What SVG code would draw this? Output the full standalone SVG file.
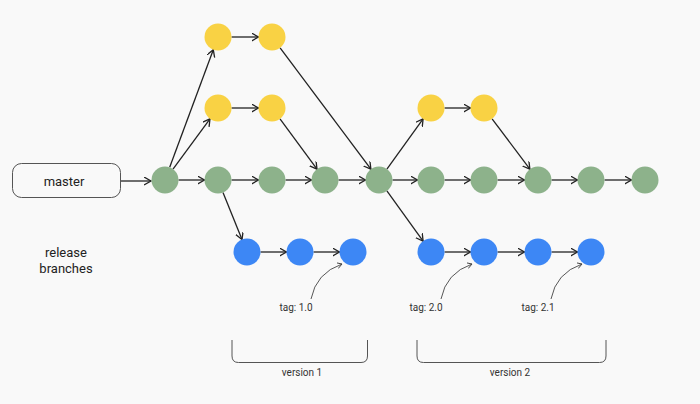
<svg xmlns="http://www.w3.org/2000/svg" width="700" height="404" viewBox="0 0 700 404">
<defs>
<marker id="arr" markerUnits="userSpaceOnUse" markerWidth="10" markerHeight="10" refX="7" refY="4" orient="auto">
<path d="M0,0 L7,4 L0,8" fill="none" stroke="#222" stroke-width="1.3"/>
</marker>
<marker id="arrs" markerUnits="userSpaceOnUse" markerWidth="8" markerHeight="8" refX="5" refY="3" orient="auto">
<path d="M0,0 L5,3 L0,6" fill="none" stroke="#444" stroke-width="0.9"/>
</marker>
<style>
.y{fill:#F9D244}
.g{fill:#8DB28B}
.b{fill:#3D87F5}
.c line{stroke:#222;stroke-width:1.3;marker-end:url(#arr)}
.tagc{fill:none;stroke:#444;stroke-width:0.9;marker-end:url(#arrs)}
.br{fill:none;stroke:#555;stroke-width:1}
text{font-family:Roboto,"Liberation Sans",sans-serif;fill:#222;text-anchor:middle}
.l{font-size:13px}
.s{font-size:10px;fill:#333}
</style>
</defs>
<rect width="700" height="404" fill="#F9F9F9"/>

<g id="connectors" class="c">
<line x1="121" y1="181" x2="151" y2="181"/>
<line x1="178.5" y1="180" x2="204.5" y2="180"/>
<line x1="169.7" y1="167.3" x2="213.3" y2="49.7"/>
<line x1="173" y1="169.1" x2="210" y2="118.9"/>
<line x1="231.5" y1="37" x2="258.5" y2="37"/>
<line x1="231.5" y1="108" x2="258.5" y2="108"/>
<line x1="231.5" y1="180" x2="258.5" y2="180"/>
<line x1="223" y1="192.5" x2="242" y2="239.5"/>
<line x1="285.5" y1="180" x2="311.5" y2="180"/>
<line x1="280" y1="118.9" x2="317" y2="169.1"/>
<line x1="280.1" y1="47.8" x2="370.9" y2="169.2"/>
<line x1="338.5" y1="180" x2="365.5" y2="180"/>
<line x1="386.9" y1="169.1" x2="423.1" y2="118.9"/>
<line x1="392.5" y1="180" x2="417.5" y2="180"/>
<line x1="386.9" y1="190.9" x2="423.1" y2="241.1"/>
<line x1="444.5" y1="108" x2="470.5" y2="108"/>
<line x1="492.1" y1="118.8" x2="529.9" y2="169.2"/>
<line x1="444.5" y1="180" x2="470.5" y2="180"/>
<line x1="497.5" y1="180" x2="524.5" y2="180"/>
<line x1="551.5" y1="180" x2="577.5" y2="180"/>
<line x1="604.5" y1="180" x2="631.5" y2="180"/>
<line x1="260.5" y1="252" x2="286.5" y2="252"/>
<line x1="313.5" y1="252" x2="339.5" y2="252"/>
<line x1="444.5" y1="252" x2="470.5" y2="252"/>
<line x1="497.5" y1="252" x2="524.5" y2="252"/>
<line x1="551.5" y1="252" x2="577.5" y2="252"/>
</g>

<g id="master">
<rect x="12.5" y="163.5" width="108" height="34" rx="9" fill="none" stroke="#555" stroke-width="1"/>
<text class="l" x="64" y="186">master</text>
</g>
<g id="release-label">
<text class="l" x="66" y="257">release</text>
<text class="l" x="66" y="273">branches</text>
</g>

<g id="g1"><circle class="g" cx="165" cy="180" r="13.5"/></g>
<g id="g2"><circle class="g" cx="218" cy="180" r="13.5"/></g>
<g id="g3"><circle class="g" cx="272" cy="180" r="13.5"/></g>
<g id="g4"><circle class="g" cx="325" cy="180" r="13.5"/></g>
<g id="g5"><circle class="g" cx="379" cy="180" r="13.5"/></g>
<g id="g6"><circle class="g" cx="431" cy="180" r="13.5"/></g>
<g id="g7"><circle class="g" cx="484" cy="180" r="13.5"/></g>
<g id="g8"><circle class="g" cx="538" cy="180" r="13.5"/></g>
<g id="g9"><circle class="g" cx="591" cy="180" r="13.5"/></g>
<g id="g10"><circle class="g" cx="645" cy="180" r="13.5"/></g>

<g id="y1"><circle class="y" cx="218" cy="37" r="13.5"/></g>
<g id="y2"><circle class="y" cx="272" cy="37" r="13.5"/></g>
<g id="y3"><circle class="y" cx="218" cy="108" r="13.5"/></g>
<g id="y4"><circle class="y" cx="272" cy="108" r="13.5"/></g>
<g id="y5"><circle class="y" cx="431" cy="108" r="13.5"/></g>
<g id="y6"><circle class="y" cx="484" cy="108" r="13.5"/></g>

<g id="b1"><circle class="b" cx="247" cy="252" r="13.5"/></g>
<g id="b2"><circle class="b" cx="300" cy="252" r="13.5"/></g>
<g id="b3"><circle class="b" cx="353" cy="252" r="13.5"/></g>
<g id="b4"><circle class="b" cx="431" cy="252" r="13.5"/></g>
<g id="b5"><circle class="b" cx="484" cy="252" r="13.5"/></g>
<g id="b6"><circle class="b" cx="538" cy="252" r="13.5"/></g>
<g id="b7"><circle class="b" cx="591" cy="252" r="13.5"/></g>

<g id="tag10">
<path class="tagc" d="M311,299 Q316,273 342,264"/>
<text class="s" x="296" y="311">tag: 1.0</text>
</g>
<g id="tag20">
<path class="tagc" d="M441,299 Q446,273 472,264"/>
<text class="s" x="426" y="311">tag: 2.0</text>
</g>
<g id="tag21">
<path class="tagc" d="M551,299 Q556,273 582,264"/>
<text class="s" x="538" y="311">tag: 2.1</text>
</g>

<g id="version1">
<path class="br" d="M232,340 V356 Q232,362.5 238.5,362.5 H361 Q367.5,362.5 367.5,356 V340"/>
<text class="s" x="302" y="376">version 1</text>
</g>
<g id="version2">
<path class="br" d="M417,340 V356 Q417,362.5 423.5,362.5 H599.5 Q606,362.5 606,356 V340"/>
<text class="s" x="510" y="376">version 2</text>
</g>
</svg>
